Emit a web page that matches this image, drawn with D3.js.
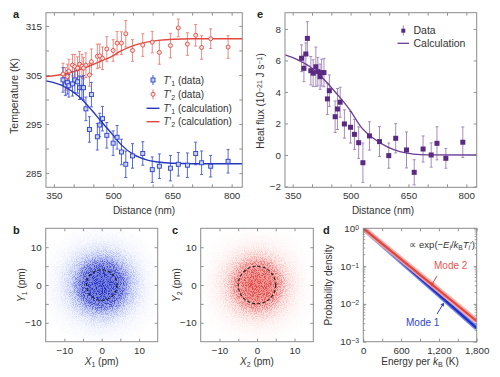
<!DOCTYPE html>
<html><head><meta charset="utf-8">
<script src="https://cdn.jsdelivr.net/npm/d3@7"></script>
<style>body{margin:0;background:#fff}svg{display:block;font-family:"Liberation Sans",Arial,sans-serif}</style>
</head><body><svg id="c" width="500" height="377"></svg>
<script>
// ---------- DATA ----------
const distance = [373,379,384,388,397,403,410,415,421,425,431,440,445,460,466,473,484,500,510,521,532,549,575,599,617,645,665,688,709,724,747,791];
const t1Data = [304.0,303.0,303.5,302.8,303.2,304.0,303.6,302.4,302.5,302.4,298.1,293.9,301.0,292.4,294.8,296.1,292.7,291.1,292.3,289.3,286.8,288.5,289.0,285.7,286.4,286.0,286.8,286.6,289.0,287.1,286.4,287.4];
const t1Err  = [2.5,2.2,2.4,2.3,2.5,2.6,2.3,2.4,2.2,2.5,2.4,2.6,2.5,2.7,2.4,2.5,2.6,2.5,2.4,2.6,2.7,2.5,2.4,2.6,2.5,2.6,2.4,2.5,2.3,2.4,2.2,2.4];
const t2Data = [305.2,304.2,304.7,305.8,307.0,306.7,306.4,307.2,306.8,306.4,307.0,305.0,307.7,308.8,308.9,308.4,310.3,310.0,311.5,311.5,313.4,310.0,311.1,311.7,309.6,311.0,314.6,311.3,313.1,310.6,312.4,310.7];
const t2Err  = [2.2,2.3,2.5,2.4,2.2,2.5,2.3,2.6,2.4,2.2,2.5,2.3,2.6,2.5,2.4,2.3,2.5,2.2,2.4,2.3,2.7,2.2,2.3,2.2,2.4,2.5,1.8,2.3,2.2,2.4,2.0,2.3];
const calcDist = [330,378,412,446,471,496,520,551,585,619,652,700,760,830];
const t1Calc = [303.8,302.6,300.7,297.8,295.4,293.1,290.8,288.8,287.7,287.2,287.0,286.9,286.9,286.9];
const t2Calc = [304.7,305.2,306.0,307.05,307.9,308.75,309.9,311.0,311.7,312.1,312.3,312.4,312.4,312.4];

const fluxData = [6.14,5.5,6.41,7.4,5.35,5.19,5.6,5.29,4.97,5.23,5.23,3.56,4.08,2.43,2.92,3.35,1.97,1.76,1.31,0.78,-0.49,1.21,0.85,-0.04,1.06,0.32,-1.1,0.38,0.0,0.74,-0.21,0.81];
const fluxErr  = [0.85,0.85,0.7,1.06,0.9,0.85,1.25,0.9,0.8,0.85,0.9,1.0,1.0,1.0,1.3,0.95,0.9,1.0,0.95,1.0,1.25,0.9,0.95,0.8,0.93,1.14,0.8,0.83,0.77,1.05,0.63,0.97];
const fluxCalcDist = [330,359,394,428,463,498,528,559,594,628,663,700,830];
const fluxCalc = [6.35,6.08,5.61,4.87,3.92,2.86,1.75,1.06,0.53,0.21,0.06,0.01,0.0];

const distTicks = [350,400,450,500,550,600,650,700,750,800];
const distLabels = [350,500,650,800];
const tempTicks = [285,290,295,300,305,310,315];
const tempLabels = [285,295,305,315];
const fluxTicks = [-2,0,2,4,6,8];
const pmTicks = [-10,-5,0,5,10];
const pmLabels = [-10,0,10];

const cloudR = [0,2,4,6,8,10,12,14,17];
const cloud1Density = [1,0.97,0.88,0.64,0.34,0.15,0.06,0.025,0];
const cloud2Density = [0.92,0.88,0.76,0.52,0.27,0.12,0.05,0.02,0];
const ringRadius = [4.1,5.0];

const energy = [0,1800];
const mode1Density = [1,2.3e-3];
const mode2Density = [1,3.5e-3];
const energyTicks = [0,300,600,900,1200,1500,1800];
const energyLabels = {0:"0",600:"600",1200:"1,200",1800:"1,800"};
const probDecades = [1,0.1,0.01,0.001];
const probLabels = ["0","−1","−2","−3"];

// ---------- SETUP ----------
const svg = d3.select("#c");
const defs = svg.append("defs");
const FRAME = "#8c8c8c", TICK = "#777", TXT = "#333";
const fmt = d => (d < 0 ? "\u2212" + Math.abs(d) : String(d));

function frameAxes(x, y, o) {
  const g = svg.append("g");
  const [x0, x1] = x.range(), [y1, y0] = y.range();
  const style = sel => {
    sel.select(".domain").remove();
    sel.selectAll(".tick line").attr("stroke", TICK).attr("stroke-width", 0.8);
    sel.selectAll(".tick text").attr("fill", TXT).attr("font-size", o.fs || 9.8)
      .attr("font-family", '"Liberation Sans",Arial,sans-serif');
  };
  const ts = o.ts || 3;
  g.append("g").attr("transform", `translate(${x0},0)`)
    .call(d3.axisLeft(y).tickValues(o.yTicks).tickSize(-ts).tickSizeOuter(0).tickPadding(4)
      .tickFormat(d => o.yLabels && o.yLabels.includes(d) ? fmt(d) : "")).call(style);
  g.append("g").attr("transform", `translate(${x1},0)`)
    .call(d3.axisRight(y).tickValues(o.yTicks).tickSize(-ts).tickSizeOuter(0).tickFormat("")).call(style);
  g.append("g").attr("transform", `translate(0,${y1})`)
    .call(d3.axisBottom(x).tickValues(o.xTicks).tickSize(-ts).tickSizeOuter(0).tickPadding(5)
      .tickFormat(d => o.xFmt ? o.xFmt(d) : (o.xLabels.includes(d) ? fmt(d) : ""))).call(style);
  g.append("g").attr("transform", `translate(0,${y0})`)
    .call(d3.axisTop(x).tickValues(o.xTicks).tickSize(-ts).tickSizeOuter(0).tickFormat("")).call(style);
  g.append("rect").attr("x", x0).attr("y", y0).attr("width", x1 - x0).attr("height", y1 - y0)
    .attr("fill", "none").attr("stroke", FRAME).attr("stroke-width", 1);
  return g;
}
function label(txt, x, y, opts = {}) {
  const t = svg.append("text").attr("x", x).attr("y", y).attr("font-size", opts.fs || 10)
    .attr("fill", opts.fill || TXT).attr("text-anchor", opts.anchor || "middle");
  if (txt) t.text(txt);
  if (opts.rot) t.attr("transform", `rotate(-90,${x},${y})`);
  if (opts.bold) t.attr("font-weight", "bold");
  return t;
}
function parts(t, list) {
  list.forEach(([s, k]) => {
    const ts = t.append("tspan").text(s);
    if (k === "i") ts.attr("font-style", "italic");
    if (k === "sub") ts.attr("baseline-shift", "-25%").attr("font-size", "70%");
    if (k === "sup") ts.attr("baseline-shift", "35%").attr("font-size", "70%");
    if (k === "isub") ts.attr("baseline-shift", "-25%").attr("font-size", "70%").attr("font-style", "italic");
  });
  return t;
}

// ---------- PANEL A ----------
const xa = d3.scaleLinear().domain([330, 827]).range([46, 242.3]);
const ya = d3.scaleLinear().domain([282.1, 317.7]).range([187.3, 12.7]);
const BLUE = "#2b3fc8", BLUE_E = "#4458d2", RED = "#e2483e", RED_E = "#e87d75";
defs.append("clipPath").attr("id", "clipA").append("rect").attr("x", 46).attr("y", 12.7).attr("width", 196.3).attr("height", 174.6);
const ga = svg.append("g").attr("clip-path", "url(#clipA)");
const lineA = d3.line().x((d, i) => xa(calcDist[i])).y(d => ya(d)).curve(d3.curveMonotoneX);
function errBars(g, xs, ys, es, xsc, ysc, color, cap) {
  const eb = g.append("g").attr("stroke", color).attr("stroke-width", 0.9);
  xs.forEach((d, i) => {
    const X = xsc(d), Y1 = ysc(ys[i] - es[i]), Y2 = ysc(ys[i] + es[i]);
    eb.append("line").attr("x1", X).attr("x2", X).attr("y1", Y1).attr("y2", Y2);
    eb.append("line").attr("x1", X - cap).attr("x2", X + cap).attr("y1", Y1).attr("y2", Y1);
    eb.append("line").attr("x1", X - cap).attr("x2", X + cap).attr("y1", Y2).attr("y2", Y2);
  });
}
errBars(ga, distance, t2Data, t2Err, xa, ya, RED_E, 1.5);
errBars(ga, distance, t1Data, t1Err, xa, ya, BLUE_E, 1.5);
ga.append("path").attr("d", lineA(t2Calc)).attr("fill", "none").attr("stroke", RED).attr("stroke-width", 1.4);
ga.append("path").attr("d", lineA(t1Calc)).attr("fill", "none").attr("stroke", "#2236c0").attr("stroke-width", 1.4);
ga.append("g").selectAll("circle").data(distance).join("circle")
  .attr("cx", d => xa(d)).attr("cy", (d, i) => ya(t2Data[i])).attr("r", 2)
  .attr("fill", "#fbe3e0").attr("stroke", RED).attr("stroke-width", 0.9);
ga.append("g").selectAll("rect").data(distance).join("rect")
  .attr("x", d => xa(d) - 2).attr("y", (d, i) => ya(t1Data[i]) - 2).attr("width", 4).attr("height", 4)
  .attr("fill", "#c9d0f5").attr("stroke", BLUE).attr("stroke-width", 0.9);
frameAxes(xa, ya, {xTicks: distTicks, xLabels: distLabels, yTicks: tempTicks, yLabels: tempLabels});
label("Temperature (K)", 18, 96, {rot: true, fs: 10.5});
label("Distance (nm)", 144, 214);
label("a", 13, 18, {bold: true, fs: 11, anchor: "start", fill: "#222"});
const legA = svg.append("g");
const lx = 153;
[[80, "data", BLUE, "1"], [94.3, "data", RED, "2"], [108.3, "calculation", BLUE, "1"], [121.7, "calculation", RED, "2"]].forEach(([yy, kind, col, sub]) => {
  if (kind === "data") {
    legA.append("line").attr("x1", lx).attr("x2", lx).attr("y1", yy - 5).attr("y2", yy + 5).attr("stroke", col === BLUE ? BLUE_E : RED_E);
    if (col === BLUE) legA.append("rect").attr("x", lx - 2).attr("y", yy - 2).attr("width", 4).attr("height", 4).attr("fill", "#c9d0f5").attr("stroke", BLUE).attr("stroke-width", 0.9);
    else legA.append("circle").attr("cx", lx).attr("cy", yy).attr("r", 2).attr("fill", "#fbe3e0").attr("stroke", RED).attr("stroke-width", 0.9);
  } else {
    legA.append("line").attr("x1", lx - 6.5).attr("x2", lx + 6.5).attr("y1", yy).attr("y2", yy).attr("stroke", col === BLUE ? "#2236c0" : RED).attr("stroke-width", 1.4);
  }
  const t = legA.append("text").attr("x", 163.3).attr("y", yy + 3.6).attr("font-size", 10).attr("fill", TXT);
  parts(t, [["T", "i"], ["\u2032", "n"], [sub, "sub"], [" (" + kind + ")", "n"]]);
});

// ---------- PANEL E ----------
const xe = d3.scaleLinear().domain([330, 827]).range([285, 476.7]);
const ye = d3.scaleLinear().domain([-2.05, 9.03]).range([187.3, 12.7]);
const PUR = "#5a2a82", PUR_E = "#9d80b5";
defs.append("clipPath").attr("id", "clipE").append("rect").attr("x", 285).attr("y", 12.7).attr("width", 191.7).attr("height", 174.6);
const ge = svg.append("g").attr("clip-path", "url(#clipE)");
errBars(ge, distance, fluxData, fluxErr, xe, ye, PUR_E, 1.5);
ge.append("path").attr("d", d3.line().x((d, i) => xe(fluxCalcDist[i])).y(d => ye(d)).curve(d3.curveMonotoneX)(fluxCalc))
  .attr("fill", "none").attr("stroke", "#6a3d92").attr("stroke-width", 1.3);
ge.append("g").selectAll("rect").data(distance).join("rect")
  .attr("x", d => xe(d) - 2.5).attr("y", (d, i) => ye(fluxData[i]) - 2.5).attr("width", 5).attr("height", 5)
  .attr("fill", PUR);
frameAxes(xe, ye, {xTicks: distTicks, xLabels: distLabels, yTicks: fluxTicks, yLabels: fluxTicks});
parts(label("", 264, 101, {rot: true}), [["Heat flux (10", "n"], ["\u221221", "sup"], [" J s", "n"], ["\u22121", "sup"], [")", "n"]]);
label("Distance (nm)", 383, 214);
label("e", 257, 18, {bold: true, fs: 11, anchor: "start", fill: "#222"});
const legE = svg.append("g");
legE.append("line").attr("x1", 403.3).attr("x2", 403.3).attr("y1", 25.5).attr("y2", 35.5).attr("stroke", PUR_E);
legE.append("rect").attr("x", 401.3).attr("y", 28.7).attr("width", 4).attr("height", 4).attr("fill", PUR);
legE.append("line").attr("x1", 397.5).attr("x2", 409).attr("y1", 43.3).attr("y2", 43.3).attr("stroke", "#6a3d92").attr("stroke-width", 1.3);
label("Data", 413.5, 34.3, {anchor: "start", fs: 10.5});
label("Calculation", 413.5, 47.3, {anchor: "start", fs: 10.5});

// ---------- PANELS B, C ----------
const filt = defs.append("filter").attr("id", "spk").attr("x", 0).attr("y", 0).attr("width", "100%").attr("height", "100%");
filt.append("feTurbulence").attr("type", "fractalNoise").attr("baseFrequency", 1.1).attr("numOctaves", 1).attr("seed", 4).attr("result", "noise");
filt.append("feComponentTransfer").attr("in", "noise").attr("result", "mask")
  .append("feFuncA").attr("type", "linear").attr("slope", 6).attr("intercept", -2.7);
filt.append("feComposite").attr("in", "SourceGraphic").attr("in2", "mask").attr("operator", "in");

function cloudPanel(id, x0, x1, density, core, mid, ringR) {
  const x = d3.scaleLinear().domain([-15, 15]).range([x0, x1]);
  const y = d3.scaleLinear().domain([-15, 15]).range([341.7, 228.3]);
  const rMax = cloudR[cloudR.length - 1];
  const grad = defs.append("radialGradient").attr("id", "g" + id).attr("gradientUnits", "userSpaceOnUse")
    .attr("cx", x(0)).attr("cy", y(0)).attr("r", x(rMax) - x(0));
  cloudR.forEach((r, i) => grad.append("stop").attr("offset", r / rMax)
    .attr("stop-color", i < 4 ? core : mid).attr("stop-opacity", density[i]));
  defs.append("clipPath").attr("id", "cl" + id).append("rect").attr("x", x0).attr("y", 228.3)
    .attr("width", x1 - x0).attr("height", 113.4);
  const g = svg.append("g").attr("clip-path", `url(#cl${id})`);
  g.append("circle").attr("cx", x(0)).attr("cy", y(0)).attr("r", x(rMax) - x(0))
    .attr("fill", `url(#g${id})`).attr("opacity", 0.6);
  g.append("rect").attr("x", x0).attr("y", 228.3).attr("width", x1 - x0).attr("height", 113.4)
    .attr("fill", `url(#g${id})`).attr("filter", "url(#spk)");
  g.append("circle").attr("cx", x(0)).attr("cy", y(0)).attr("r", x(ringR) - x(0))
    .attr("fill", "none").attr("stroke", "#1a1a1a").attr("stroke-width", 1.1).attr("stroke-dasharray", "3,2.2");
  frameAxes(x, y, {xTicks: pmTicks, xLabels: pmLabels, yTicks: pmTicks, yLabels: pmLabels});
  return x;
}
cloudPanel("b", 45.7, 157.7, cloud1Density, "#1c2bc4", "#4660e6", ringRadius[0]);
cloudPanel("c", 200.7, 313.3, cloud2Density, "#e23a36", "#ef6a62", ringRadius[1]);
label("b", 13, 234, {bold: true, fs: 11, anchor: "start", fill: "#222"});
label("c", 172, 234, {bold: true, fs: 11, anchor: "start", fill: "#222"});
parts(label("", 101.7, 365), [["X", "i"], ["1", "sub"], [" (pm)", "n"]]);
parts(label("", 257, 365), [["X", "i"], ["2", "sub"], [" (pm)", "n"]]);
parts(label("", 25, 285, {rot: true}), [["Y", "i"], ["1", "sub"], [" (pm)", "n"]]);
parts(label("", 180, 285, {rot: true}), [["Y", "i"], ["2", "sub"], [" (pm)", "n"]]);

// ---------- PANEL D ----------
const xd = d3.scaleLinear().domain([0, 1800]).range([363.3, 476.7]);
const yd = d3.scaleLog().domain([1e-3, 1]).range([341.7, 228.3]);
const minor = [];
probDecades.slice(1).forEach(dec => { for (let k = 2; k <= 9; k++) minor.push(dec * k); });
defs.append("clipPath").attr("id", "clD").append("rect").attr("x", 363.3).attr("y", 228.3).attr("width", 113.4).attr("height", 113.4);
const gd = svg.append("g").attr("clip-path", "url(#clD)");
const ld = dens => d3.line().x((d, i) => xd(energy[i])).y(d => yd(d))(dens);
gd.append("path").attr("d", ld(mode1Density)).attr("stroke", "#7d8ff0").attr("stroke-width", 5).attr("fill", "none");
gd.append("path").attr("d", ld(mode1Density)).attr("stroke", "#2233c2").attr("stroke-width", 2.4).attr("fill", "none");
gd.append("path").attr("d", ld(mode2Density)).attr("stroke", "#f4a9a2").attr("stroke-width", 5.5).attr("fill", "none").attr("opacity", 0.9);
gd.append("path").attr("d", ld(mode2Density)).attr("stroke", "#e2453d").attr("stroke-width", 2.2).attr("fill", "none");
const gdAx = frameAxes(xd, yd, {xTicks: energyTicks, xFmt: d => energyLabels[d] || "", yTicks: probDecades, yLabels: []});
[[363.3, 2], [476.7, -2]].forEach(([X, len]) => {
  gdAx.append("g").selectAll("line").data(minor).join("line")
    .attr("x1", X).attr("x2", X + len).attr("y1", d => yd(d)).attr("y2", d => yd(d)).attr("stroke", TICK).attr("stroke-width", 0.7);
});
probDecades.forEach((v, i) => {
  parts(label("", 359, yd(v) + 3.5, {anchor: "end", fs: 9.8}), [["10", "n"], [probLabels[i], "sup"]]);
});
label("d", 323, 234, {bold: true, fs: 11, anchor: "start", fill: "#222"});
label("Probability density", 332, 285, {rot: true});
parts(label("", 420, 365), [["Energy per ", "n"], ["k", "i"], ["B", "sub"], [" (K)", "n"]]);
parts(label("", 475, 248, {anchor: "end", fs: 9.5}), [["\u221D exp(\u2212", "n"], ["E", "i"], ["i", "isub"], ["/", "n"], ["k", "i"], ["B", "sub"], ["T", "i"], ["i", "isub"], ["\u2032", "n"], [")", "n"]]);
label("Mode 2", 434, 269, {anchor: "start", fill: "#e8564e"});
label("Mode 1", 406, 326, {anchor: "start", fill: "#3045d0"});
const arrows = [
  {from: [1170, 0.055], to: [1075, 0.0297], col: "#e2453d"},
  {from: [1170, 0.0054], to: [1281, 0.0108], col: "#2b3fc8"}
];
arrows.forEach(a => {
  const x1 = xd(a.from[0]), y1 = yd(a.from[1]), x2 = xd(a.to[0]), y2 = yd(a.to[1]);
  const ang = Math.atan2(y2 - y1, x2 - x1), L = 3.5, W = 2;
  svg.append("line").attr("x1", x1).attr("y1", y1).attr("x2", x2 - Math.cos(ang) * 2).attr("y2", y2 - Math.sin(ang) * 2).attr("stroke", a.col).attr("stroke-width", 1);
  const p = [[x2, y2], [x2 - L * Math.cos(ang) + W * Math.sin(ang), y2 - L * Math.sin(ang) - W * Math.cos(ang)], [x2 - L * Math.cos(ang) - W * Math.sin(ang), y2 - L * Math.sin(ang) + W * Math.cos(ang)]];
  svg.append("path").attr("d", "M" + p.join("L") + "Z").attr("fill", a.col);
});
</script></body></html>
